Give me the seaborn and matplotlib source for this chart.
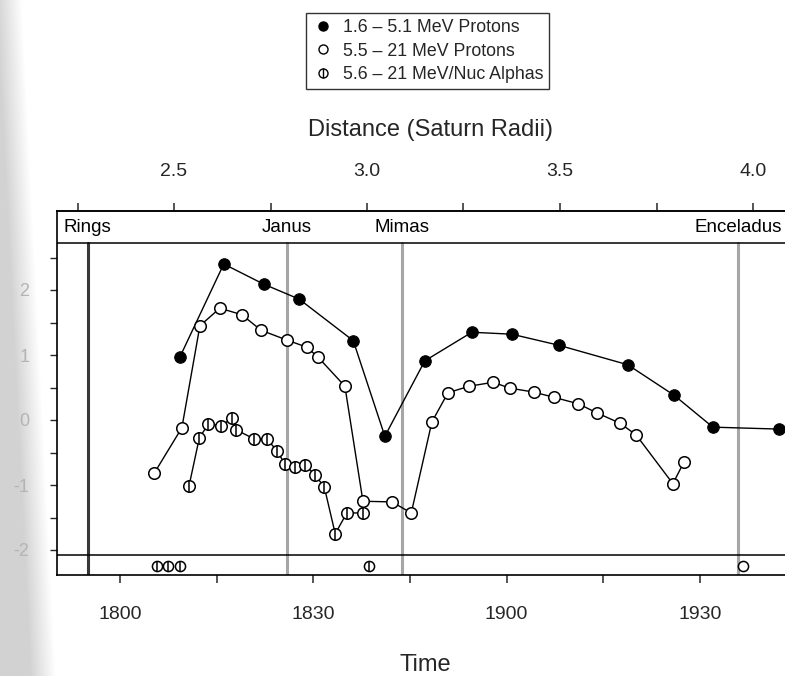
import numpy as np
import matplotlib
matplotlib.use("Agg")
import matplotlib.pyplot as plt
import seaborn as sns
from matplotlib.lines import Line2D
from matplotlib.ticker import FixedLocator, FixedFormatter

# ---------------- data (time = minutes after 18:00) ----------------
low_p_time = [9.3, 16.1, 22.3, 27.8, 36.2, 41.1, 47.3, 54.6, 60.8, 68.1, 78.8, 86.0, 92.0, 102.3]
low_p_flux = [0.97, 2.40, 2.09, 1.86, 1.22, -0.25, 0.91, 1.35, 1.32, 1.15, 0.85, 0.38, -0.11, -0.14]

high_p_time = [5.3, 9.6, 12.4, 15.5, 18.9, 21.9, 25.9, 29.0, 30.7, 34.9, 37.7, 42.2, 45.2,
               48.4, 50.9, 54.2, 57.9, 60.5, 64.2, 67.3, 71.1, 74.0, 77.6, 80.1, 85.8, 87.5]
high_p_flux = [-0.82, -0.12, 1.45, 1.72, 1.62, 1.38, 1.23, 1.12, 0.97, 0.52, -1.25, -1.26, -1.43,
               -0.03, 0.42, 0.52, 0.58, 0.49, 0.43, 0.35, 0.25, 0.11, -0.05, -0.23, -0.98, -0.65]

alpha_time = [10.7, 12.3, 13.7, 15.7, 17.4, 18.0, 20.8, 22.8, 24.4, 25.6, 27.2, 28.7, 30.3,
              31.7, 33.4, 35.2, 37.7]
alpha_flux = [-1.02, -0.28, -0.06, -0.09, 0.03, -0.15, -0.29, -0.29, -0.48, -0.68, -0.72, -0.69,
              -0.85, -1.03, -1.75, -1.43, -1.43]

# below-range detections shown in the bottom strip
alpha_low_time = [5.7, 7.4, 9.3, 38.6]
high_p_low_time = [96.7]

moon_names = ["Rings", "Janus", "Mimas", "Enceladus"]
moon_time = [-5.0, 25.9, 43.8, 95.9]

time_ticks = [0, 30, 60, 90]
time_labels = ["1800", "1830", "1900", "1930"]
time_minor = [15, 45, 75]

dist_ticks = [2.25, 2.5, 2.75, 3.0, 3.25, 3.5, 3.75, 4.0]
dist_labels = ["", "2.5", "", "3.0", "", "3.5", "", "4.0"]

y_ticks = [-2.0, -1.5, -1.0, -0.5, 0.0, 0.5, 1.0, 1.5, 2.0, 2.5]
y_labels = ["-2", "", "-1", "", "0", "", "1", "", "2", ""]

series_labels = ["1.6 \u2013 5.1 MeV Protons", "5.5 \u2013 21 MeV Protons",
                 "5.6 \u2013 21 MeV/Nuc Alphas"]

# ---------------- style ----------------
sns.set_style("ticks")
plt.rcParams["font.family"] = ["Liberation Sans", "DejaVu Sans"]

W, H = 785, 676
fig = plt.figure(figsize=(W / 100, H / 100), dpi=100)

# scan shading on the left edge
bg = fig.add_axes([0, 0, 80 / W, 1], zorder=-10)
yy, xx = np.mgrid[0:H, 0:80]
edge = 22 + 34 * (yy / H)
a = np.clip((edge - xx) / 26.0, 0, 1) * 0.18
img = np.zeros((H, 80, 4))
img[..., 3] = a
bg.imshow(img, aspect="auto", interpolation="bilinear")
bg.axis("off")

ax_l, ax_r, ax_t, ax_b = 57, 792, 211, 575
ax = fig.add_axes([ax_l / W, 1 - ax_b / H, (ax_r - ax_l) / W, (ax_b - ax_t) / H])

def px_to_min(x):
    return (x - 120) / 6.444

y0_px, y_scale = 420, 65.0
def py_to_val(y):
    return (y0_px - y) / y_scale

ax.set_xlim(px_to_min(ax_l), px_to_min(ax_r))
ylo, yhi = py_to_val(ax_b), py_to_val(ax_t)
ax.set_ylim(ylo, yhi)
strip_top = py_to_val(243)
strip_bot = py_to_val(555)
strip_pts = py_to_val(566)
label_y = py_to_val(227)

# moon lines and labels
vfrac = (strip_top - ylo) / (yhi - ylo)
for name, t in zip(moon_names, moon_time):
    if name == "Rings":
        ax.axvline(t, ymin=0, ymax=vfrac, color="#383838", lw=2.2, zorder=1)
    else:
        ax.axvline(t, ymin=0, ymax=vfrac, color="#a6a6a6", lw=2.2, zorder=1)
    ax.text(t, label_y, name, ha="center", va="center", fontsize=13.5, color="black")

ax.axhline(strip_top, color="black", lw=1.1, zorder=1.5)
ax.axhline(strip_bot, color="black", lw=1.1, zorder=1.5)

ms = 8.3
sns.lineplot(x=low_p_time, y=low_p_flux, ax=ax, color="black", lw=1.0, marker="o",
             markersize=ms, markerfacecolor="black", markeredgecolor="black",
             sort=False, estimator=None, zorder=3)
sns.lineplot(x=high_p_time, y=high_p_flux, ax=ax, color="black", lw=1.0, marker="o",
             markersize=ms, markerfacecolor="white", markeredgecolor="black",
             markeredgewidth=1.1, sort=False, estimator=None, zorder=3)
sns.lineplot(x=alpha_time, y=alpha_flux, ax=ax, color="black", lw=1.0, marker="o",
             markersize=ms, markerfacecolor="white", markeredgecolor="black",
             markeredgewidth=1.1, sort=False, estimator=None, zorder=4)
sns.scatterplot(x=alpha_time, y=alpha_flux, ax=ax, marker="|", s=ms ** 2, color="black",
                linewidth=1.1, zorder=5)

# bottom strip points
sns.scatterplot(x=alpha_low_time, y=[strip_pts] * len(alpha_low_time), ax=ax, marker="o",
                s=(ms - 1) ** 2, facecolor="white", edgecolor="black", linewidth=1.1, zorder=4)
sns.scatterplot(x=alpha_low_time, y=[strip_pts] * len(alpha_low_time), ax=ax, marker="|",
                s=(ms - 1) ** 2, color="black", linewidth=1.1, zorder=5)
sns.scatterplot(x=high_p_low_time, y=[strip_pts] * len(high_p_low_time), ax=ax, marker="o",
                s=(ms - 1) ** 2, facecolor="white", edgecolor="black", linewidth=1.1, zorder=4)

# axes / ticks
for side in ["left", "bottom", "top"]:
    ax.spines[side].set_linewidth(1.2)
    ax.spines[side].set_color("black")
ax.spines["right"].set_visible(False)

ax.xaxis.set_major_locator(FixedLocator(time_ticks))
ax.xaxis.set_major_formatter(FixedFormatter(time_labels))
ax.xaxis.set_minor_locator(FixedLocator(time_minor))
ax.tick_params(axis="x", which="both", direction="out", length=6, width=1.1,
               labelsize=14, pad=16)
ax.yaxis.set_major_locator(FixedLocator(y_ticks))
ax.yaxis.set_major_formatter(FixedFormatter(y_labels))
ax.tick_params(axis="y", direction="out", length=5, width=1.0, labelsize=13,
               labelcolor="#b4b4b4", pad=15)
ax.set_xlabel("")
ax.set_ylabel("")

def m2d(m):
    return 2.5 + (120 + 6.444 * np.asarray(m) - 174) / 386.0
def d2m(d):
    return ((np.asarray(d) - 2.5) * 386.0 + 174 - 120) / 6.444

sec = ax.secondary_xaxis("top", functions=(m2d, d2m))
sec.xaxis.set_major_locator(FixedLocator(dist_ticks))
sec.xaxis.set_major_formatter(FixedFormatter(dist_labels))
sec.tick_params(axis="x", direction="out", length=6, width=1.1, labelsize=14, pad=16)
sec.spines["top"].set_linewidth(1.2)

fig.text(431 / W, 1 - 130 / H, "Distance (Saturn Radii)", ha="center", va="center", fontsize=17)
fig.text(425 / W, 1 - 665 / H, "Time", ha="center", va="center", fontsize=17)

# legend
h1 = Line2D([], [], ls="none", marker="o", markersize=6.5, mfc="black", mec="black")
h2 = Line2D([], [], ls="none", marker="o", markersize=6.5, mfc="white", mec="black")
h3a = Line2D([], [], ls="none", marker="o", markersize=6.5, mfc="white", mec="black")
h3b = Line2D([], [], ls="none", marker="|", markersize=6.5, color="black")
leg = fig.legend([h1, h2, (h3a, h3b)], series_labels, loc="upper left",
                 bbox_to_anchor=(306 / W, 1 - 13 / H), frameon=True, fancybox=False,
                 edgecolor="black", fontsize=12.8, handlelength=1.2, handletextpad=0.55,
                 labelspacing=0.38, borderpad=0.33, borderaxespad=0)
leg.get_frame().set_linewidth(1.0)

fig.savefig("out.png", dpi=100)
